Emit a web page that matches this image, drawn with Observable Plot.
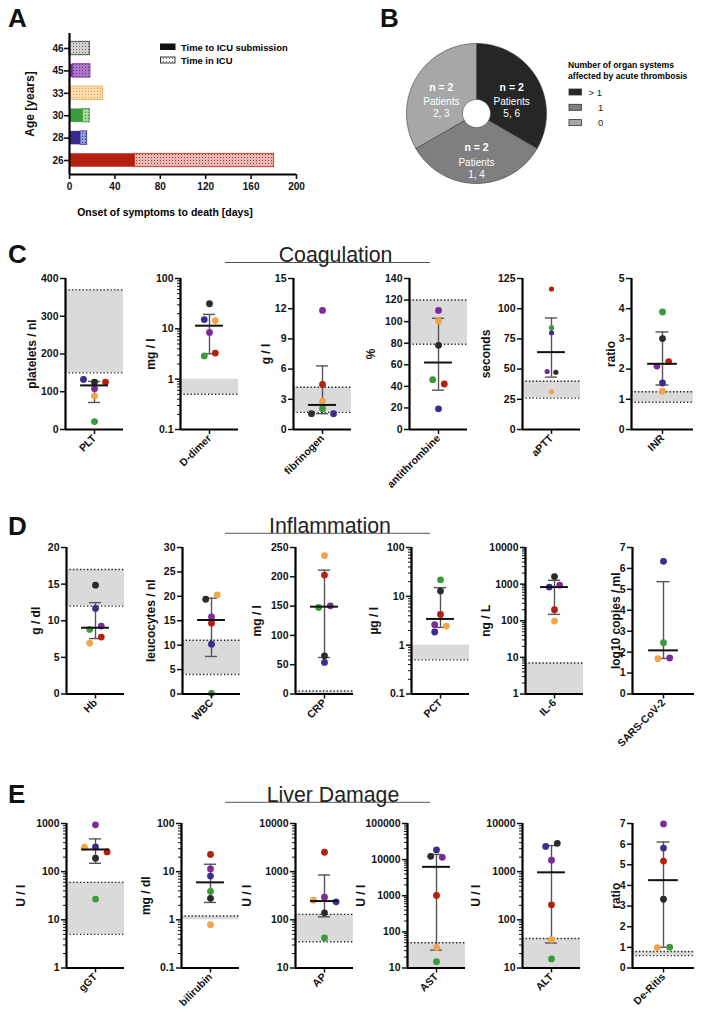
<!DOCTYPE html>
<html><head><meta charset="utf-8">
<script src="https://cdn.jsdelivr.net/npm/d3@7"></script>
<script src="https://cdn.jsdelivr.net/npm/@observablehq/plot@0.6"></script>
<style>
body{margin:0;background:#fff;}
#root{position:relative;width:708px;height:1023px;overflow:hidden;background:#fff;}
#root g[aria-label="y-axis label"] text{font-size:12px;}
</style></head><body><div id="root"></div>
<script>
// ---------- DATA ----------
// patients in order of age: 26, 28, 30, 33, 45, 46
const ages = ["26", "28", "30", "33", "45", "46"];
const patientColors = ["#b41f0e", "#3c2b8e", "#3b9b3b", "#f3a445", "#7d2b9c", "#2b2b2b"];
const icuTints = ["#e9b8b4", "#8aa3db", "#a5d79f", "#fcdcb0", "#a978c6", "#d2d2d2"];
const icuDots = ["#a3281a", "#33307a", "#2f7d2f", "#e39030", "#5e2478", "#555555"];
const daysToICU = [57.6, 9.7, 11.8, 0, 3.2, 0];
const daysToDeath = [180.3, 15.6, 17.9, 29.7, 18.5, 17.9];
const dayTicks = [0, 40, 80, 120, 160, 200];

// panel B
const organLabels = ["> 1", "1", "0"];
const organCounts = [2, 2, 2];
const organPatients = ["5, 6", "1, 4", "2, 3"];
const organColors = ["#262626", "#7f7f7f", "#a7a7a7"];

// panel C  (values per patient, same order as ages)
const coagTests = ["PLT", "D-dimer", "fibrinogen", "antithrombine", "aPTT", "INR"];
const coagUnits = ["platelets / nl", "mg / l", "g / l", "%", "seconds", "ratio"];
const coagValues = [
  [125.7, 132.7, 21, 88.5, 108, 125.7],
  [3.3, 15.3, 2.9, 14.6, 8.5, 31.5],
  [4.48, 1.57, 2.07, 2.81, 11.83, 1.57],
  [42.2, 19.2, 46.2, 100.7, 110.4, 78],
  [116.3, 80.1, 84.3, 31.25, 48, 47.4],
  [2.25, 1.54, 3.89, 1.27, 2.10, 3.01]
];
const coagJitter = [
  [0.38, -0.38, 0, 0, 0, 0],
  [0.2, -0.18, -0.18, 0.2, 0, 0],
  [0, 0.38, 0, 0, 0, -0.38],
  [0.2, 0, -0.2, 0, 0, 0],
  [0, 0, 0, 0, -0.15, 0.15],
  [0.2, 0, 0, 0, -0.18, 0]
];
const coagRanges = [[150, 370], [0.5, 1], [1.7, 4.2], [79, 120], [26, 40], [0.9, 1.25]];
const coagDotted = [[150, 370], [0.5], [1.7, 4.2], [79, 120], [26, 40], [0.9, 1.25]];
const coagTicks = [[0, 100, 200, 300, 400], [0.1, 1, 10, 100], [0, 3, 6, 9, 12, 15],
  [0, 20, 40, 60, 80, 100, 120, 140], [0, 25, 50, 75, 100, 125], [0, 1, 2, 3, 4, 5]];
const coagScale = ["linear", "log", "linear", "linear", "linear", "linear"];

// panel D
const inflTests = ["Hb", "WBC", "CRP", "PCT", "IL-6", "SARS-CoV-2"];
const inflUnits = ["g / dl", "leucocytes / nl", "mg / l", "µg / l", "ng / L", "log10 copies / ml"];
const inflValues = [
  [7.77, 11.68, 8.82, 6.95, 9.27, 14.86],
  [14.5, 10.2, 0.14, 20.3, 15.8, 19.4],
  [203, 53.8, 147.6, 236.3, 150.4, 65.2],
  [4.27, 1.86, 21.8, 2.46, 2.62, 12.8],
  [201, 832, null, 98, 940, 1603],
  [null, 6.34, 2.45, 1.69, 1.72, null]
];
const inflJitter = [
  [0.2, 0, -0.2, -0.2, 0.2, 0],
  [0, 0, 0, 0.2, 0, -0.2],
  [0, 0, -0.2, 0, 0.2, 0],
  [0, -0.2, 0, 0.2, -0.2, 0],
  [0, -0.18, 0, 0, 0.18, 0],
  [0, 0, 0, -0.18, 0.2, 0]
];
const inflRanges = [[12, 17], [4, 11], [0, 5], [0.5, 1], [1, 7], null];
const inflDotted = [[12, 17], [4, 11], [5], [0.5], [7], null];
const inflTicks = [[0, 5, 10, 15, 20], [0, 5, 10, 15, 20, 25, 30], [0, 50, 100, 150, 200, 250],
  [0.1, 1, 10, 100], [1, 10, 100, 1000, 10000], [0, 1, 2, 3, 4, 5, 6, 7]];
const inflScale = ["linear", "linear", "linear", "log", "log", "linear"];

// panel E
const liverTests = ["gGT", "bilirubin", "AP", "AST", "ALT", "De-Ritis"];
const liverUnits = ["U / l", "mg / dl", "U / l", "U / l", "U / l", "ratio"];
const liverValues = [
  [257, 326, 27, 321, 938, 190],
  [22.8, 8.1, 3.9, 0.79, 11.4, 2.8],
  [2530, 236, 42, 255, 294, 140],
  [1020, 18560, 15, 36.7, 11600, 12380],
  [205, 3350, 15.4, 39, 1733, 3875],
  [5.18, 5.81, 1.01, 0.99, 6.98, 3.33]
];
const liverJitter = [
  [0.4, 0, 0, -0.38, 0, 0],
  [0, 0, 0, 0, 0, 0],
  [0, 0.4, 0, -0.38, 0, 0],
  [0, 0, 0, 0, 0.2, -0.2],
  [0, -0.2, 0, 0, 0, 0.2],
  [0, 0, 0.2, -0.2, 0, 0]
];
const liverRanges = [[5, 60], [1, 1.2], [35, 130], [10, 50], [10, 41], [0.6, 0.8]];
const liverDotted = [[5, 60], [1.2], [35, 130], [50], [41], [0.6, 0.8]];
const liverTicks = [[1, 10, 100, 1000], [0.1, 1, 10, 100], [10, 100, 1000, 10000],
  [10, 100, 1000, 10000, 100000], [10, 100, 1000, 10000], [0, 1, 2, 3, 4, 5, 6, 7]];
const liverScale = ["log", "log", "log", "log", "log", "linear"];

// ---------- LAYOUT ----------
const FONT = "'Liberation Sans', Arial, Helvetica, sans-serif";
const root = document.getElementById("root");
const place = (el, left, top) => {
  el.style.position = "absolute";
  el.style.left = left + "px";
  el.style.top = top + "px";
  root.appendChild(el);
};
const plotStyle = `background:transparent;overflow:visible;font-family:${FONT};font-size:10.5px;font-weight:bold;color:#111;`;

// pattern defs
const defs = d3.select(root).append("svg").attr("width", 0).attr("height", 0)
  .style("position", "absolute").append("defs");
const addPattern = (id, bg, dot) => {
  const p = defs.append("pattern").attr("id", id).attr("patternUnits", "userSpaceOnUse")
    .attr("width", 3).attr("height", 3);
  p.append("rect").attr("width", 3).attr("height", 3).attr("fill", bg);
  p.append("circle").attr("cx", 1.5).attr("cy", 1.5).attr("r", 0.55).attr("fill", dot);
};
icuTints.forEach((c, i) => addPattern("dots" + i, c, icuDots[i]));
addPattern("dotsLegend", "#f2f2f2", "#666");

// overlay for panel letters, section titles, legends
const ov = d3.select(root).append("svg").attr("width", 708).attr("height", 1023)
  .style("position", "absolute").style("left", "0px").style("top", "0px")
  .attr("font-family", FONT);
[["A", 8, 27], ["B", 380, 27], ["C", 8, 263], ["D", 8, 535], ["E", 8, 803]].forEach(([t, x, y]) =>
  ov.append("text").attr("x", x).attr("y", y).attr("font-size", 26).attr("font-weight", "bold")
    .attr("fill", "#111").text(t));
[["Coagulation", 335.5, 262.5], ["Inflammation", 330, 533.3], ["Liver Damage", 333, 802.3]].forEach(([t, x, y]) => {
  ov.append("line").attr("x1", 225).attr("x2", 430).attr("y1", y).attr("y2", y)
    .attr("stroke", "#555").attr("stroke-width", 1);
  ov.append("text").attr("x", x).attr("y", y - 0.5).attr("text-anchor", "middle")
    .attr("font-size", 21.3).attr("fill", "#222").text(t);
});
// panel A legend
ov.append("rect").attr("x", 160).attr("y", 43.5).attr("width", 15.5).attr("height", 6.5).attr("fill", "#111");
ov.append("rect").attr("x", 160.5).attr("y", 57).attr("width", 14.5).attr("height", 6)
  .attr("fill", "url(#dotsLegend)").attr("stroke", "#333").attr("stroke-width", 1);
ov.append("text").attr("x", 181).attr("y", 50.5).attr("font-size", 9.4).attr("font-weight", "bold").text("Time to ICU submission");
ov.append("text").attr("x", 181).attr("y", 64).attr("font-size", 9.4).attr("font-weight", "bold").text("Time in ICU");
ov.append("text").attr("x", 165).attr("y", 216).attr("text-anchor", "middle").attr("font-size", 10.5)
  .attr("font-weight", "bold").text("Onset of symptoms to death [days]");
// panel B legend
ov.append("text").attr("x", 568).attr("y", 67.5).attr("font-size", 8.6).attr("font-weight", "bold").text("Number of organ systems");
ov.append("text").attr("x", 568).attr("y", 78.5).attr("font-size", 8.6).attr("font-weight", "bold").text("affected by acute thrombosis");
organLabels.forEach((l, i) => {
  const cy = 92 + i * 15.3;
  ov.append("rect").attr("x", 569).attr("y", cy - 3).attr("width", 12.5).attr("height", 6)
    .attr("fill", organColors[i]).attr("stroke", "#333").attr("stroke-width", 0.8);
  ov.append("text").attr("x", i === 0 ? 588.5 : 598).attr("y", cy + 3.6).attr("font-size", 9.5)
    .attr("fill", "#222").text(l);
});

// ---------- PANEL A ----------
{
  const rows = ages.map((a, i) => ({idx: i, icu: daysToICU[i], death: daysToDeath[i], color: patientColors[i], pat: `url(#dots${i})`}));
  const yMin = -0.625, yMax = 5.67;
  const svg = Plot.plot({
    width: 310, height: 200, marginLeft: 69, marginRight: 14, marginTop: 33, marginBottom: 26,
    x: {domain: [0, 200]}, y: {domain: [yMin, yMax]}, color: {type: "identity"},
    style: plotStyle.replace("10.5px", "10px"),
    marks: [
      Plot.rect(rows, {x1: 0, x2: "icu", y1: d => d.idx - 0.3, y2: d => d.idx + 0.3, fill: "color"}),
      Plot.rect(rows, {x1: "icu", x2: "death", y1: d => d.idx - 0.3, y2: d => d.idx + 0.3, fill: "pat", stroke: "color", strokeWidth: 0.8}),
      Plot.axisY({ticks: d3.range(ages.length), tickFormat: i => ages[i], tickSize: 5, tickPadding: 1, strokeWidth: 1.6,
        label: "Age [years]", labelAnchor: "center", labelArrow: "none", labelOffset: 44}),
      Plot.axisX({ticks: dayTicks, tickSize: 5, tickPadding: 3, strokeWidth: 1.6, label: null}),
      Plot.ruleX([{v: 0}], {x: "v", y1: yMin, y2: yMax, stroke: "black", strokeWidth: 2.2}),
      Plot.ruleY([{v: yMin}], {y: "v", x1: 0, x2: 200, stroke: "black", strokeWidth: 2.2})
    ]
  });
  place(svg, 0, 0);
}

// ---------- PANEL B ----------
{
  const arcs = d3.pie().sort(null).value(d => d)(organCounts);
  const inner = 0.2;
  const ring = a => {
    const pts = [], n = 80;
    for (let i = 0; i <= n; i++) { const t = a.startAngle + (a.endAngle - a.startAngle) * i / n; pts.push([Math.sin(t), Math.cos(t)]); }
    for (let i = n; i >= 0; i--) { const t = a.startAngle + (a.endAngle - a.startAngle) * i / n; pts.push([inner * Math.sin(t), inner * Math.cos(t)]); }
    pts.push(pts[0]);
    return pts;
  };
  const labels = arcs.map((a, k) => {
    const m = (a.startAngle + a.endAngle) / 2;
    return {x: 0.58 * Math.sin(m), y: 0.58 * Math.cos(m), n: `n = ${organCounts[k]}`, p: organPatients[k]};
  });
  const svg = Plot.plot({
    width: 150, height: 150, margin: 5,
    x: {domain: [-1, 1], axis: null}, y: {domain: [-1, 1], axis: null},
    style: plotStyle,
    marks: [
      ...arcs.map((a, k) => Plot.line(ring(a), {x: d => d[0], y: d => d[1], fill: organColors[k], stroke: "#3a3a3a", strokeWidth: 0.6})),
      Plot.text(labels, {x: "x", y: "y", text: "n", fill: "white", fontSize: 10.5, fontWeight: "bold", dy: -6}),
      Plot.text(labels, {x: "x", y: "y", text: () => "Patients", fill: "white", fontSize: 10, fontWeight: "normal", dy: 9}),
      Plot.text(labels, {x: "x", y: "y", text: "p", fill: "white", fontSize: 10, fontWeight: "normal", dy: 20.5})
    ]
  });
  place(svg, 476 - 75, 113 - 75);
}

// ---------- PANELS C, D, E ----------
const quant = (s, p) => {
  const n = s.length, pos = (n + 1) * p, lo = Math.floor(pos);
  if (lo < 1) return s[0];
  if (lo >= n) return s[n - 1];
  return s[lo - 1] + (pos - lo) * (s[lo] - s[lo - 1]);
};

function dotPanel(c) {
  const mL = 62, mR = 8, mT = 8, mB = 62;
  const ph = c.bottom - c.top;
  const pts = c.values.map((v, i) => ({v, j: c.jitter[i], col: patientColors[i]})).filter(d => d.v != null);
  const s = pts.map(d => d.v).sort(d3.ascending);
  const med = quant(s, 0.5), q1 = quant(s, 0.25), q3 = quant(s, 0.75);
  const y0 = c.ticks[0], y1 = c.ticks[c.ticks.length - 1];
  const marks = [];
  if (c.range) marks.push(Plot.rect([c.range], {x1: -1, x2: 1, y1: d => d[0], y2: d => d[1], fill: "#dadada"}));
  if (c.dotted) marks.push(Plot.ruleY(c.dotted, {stroke: "#1e1e1e", strokeWidth: 1.4, strokeDasharray: "1.3 2.2"}));
  marks.push(Plot.ruleX([0], {y1: q1, y2: q3, stroke: "#555", strokeWidth: 1.4}));
  marks.push(Plot.ruleY([q1, q3], {x1: -0.21, x2: 0.21, stroke: "#555", strokeWidth: 1.4}));
  marks.push(Plot.dot(pts, {x: "j", y: "v", fill: "col", r: c.r}));
  marks.push(Plot.ruleY([med], {x1: -0.48, x2: 0.48, stroke: "#111", strokeWidth: 2}));
  if (c.type === "log") {
    const minor = [];
    for (let e = Math.round(Math.log10(y0)); e < Math.round(Math.log10(y1)); e++)
      for (let k = 2; k <= 9; k++) minor.push(k * Math.pow(10, e));
    marks.push(Plot.axisY({ticks: minor, tickSize: 3, tickFormat: () => "", label: null, strokeWidth: 1}));
  }
  marks.push(Plot.axisY({ticks: c.ticks, tickSize: 5, tickPadding: 2, tickFormat: d => String(d), strokeWidth: 1.5,
    label: c.unit, labelAnchor: "center", labelArrow: "none", labelOffset: c.labelOffset}));
  marks.push(Plot.axisX({ticks: [0], tickFormat: () => c.test, tickRotate: -45, tickSize: 5, tickPadding: 2, strokeWidth: 1.5, label: null}));
  marks.push(Plot.ruleX([{v: -1}], {x: "v", y1: y0, y2: y1, stroke: "black", strokeWidth: 2.2}));
  marks.push(Plot.ruleY([{v: y0}], {y: "v", x1: -1, x2: 1, stroke: "black", strokeWidth: 2.2}));
  const svg = Plot.plot({
    width: mL + c.pw + mR, height: mT + ph + mB,
    marginLeft: mL, marginRight: mR, marginTop: mT, marginBottom: mB,
    x: {domain: [-1, 1]}, y: {type: c.type, domain: [y0, y1]}, color: {type: "identity"},
    style: plotStyle, marks
  });
  place(svg, c.x0 - mL, c.top - mT);
}

const sections = [
  {tests: coagTests, units: coagUnits, values: coagValues, jitter: coagJitter, ranges: coagRanges, dotted: coagDotted,
   ticks: coagTicks, scale: coagScale, top: 278, bottom: 429,
   axes: [65, 180, 293, 409, 522, 631], offsets: [38, 34, 32, 43, 41, 25], r: [3.4, 3.4, 3.4, 3.4, 2.6, 3.4]},
  {tests: inflTests, units: inflUnits, values: inflValues, jitter: inflJitter, ranges: inflRanges, dotted: inflDotted,
   ticks: inflTicks, scale: inflScale, top: 546.5, bottom: 693,
   axes: [65.7, 182, 295, 410.7, 525, 631.7], offsets: [35, 36, 43, 42, 44, 21], r: [3.4, 3.4, 3.4, 3.4, 3.4, 3.4]},
  {tests: liverTests, units: liverUnits, values: liverValues, jitter: liverJitter, ranges: liverRanges, dotted: liverDotted,
   ticks: liverTicks, scale: liverScale, top: 822.5, bottom: 967,
   axes: [65.7, 181, 295, 407, 521.7, 631.7], offsets: [50, 40, 53, 51, 51, 21], r: [3.4, 3.4, 3.4, 3.4, 3.4, 3.4]}
];
sections.forEach(sec => sec.tests.forEach((t, i) => dotPanel({
  test: t, unit: sec.units[i], values: sec.values[i], jitter: sec.jitter[i], range: sec.ranges[i], dotted: sec.dotted[i],
  ticks: sec.ticks[i], type: sec.scale[i], top: sec.top, bottom: sec.bottom, x0: sec.axes[i],
  pw: i === 5 ? 62 : 58, labelOffset: sec.offsets[i], r: sec.r[i]
})));
</script>
</body></html>
